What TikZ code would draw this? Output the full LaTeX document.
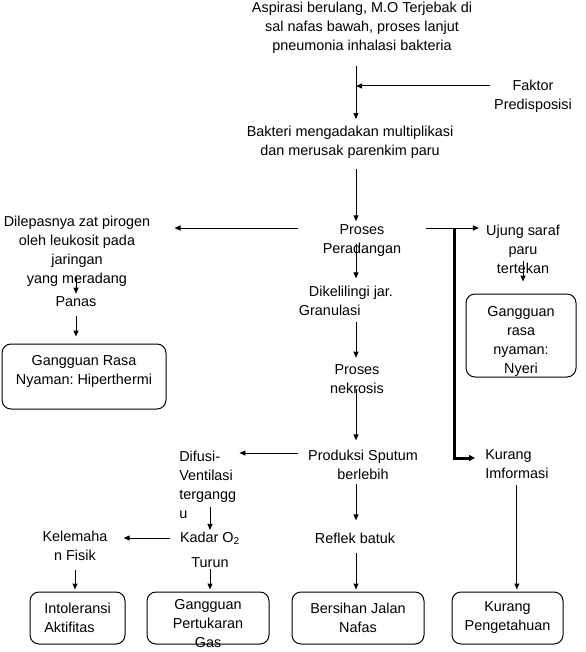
\documentclass[tikz,border=0pt]{standalone}
\usepackage{fontspec}
\setmainfont{Liberation Sans}
\usetikzlibrary{arrows.meta}
\frenchspacing

\tikzset{
  txt/.style={inner sep=0pt, align=center, font=\fontsize{10.8pt}{14.25pt}\selectfont},
  box/.style={draw, line width=0.75pt, rounded corners=6.75pt, inner sep=0pt, txt, minimum height=39pt},
  arr/.style={line width=0.75pt, -{Triangle[length=4.5pt,width=3.75pt]}},
  thickarr/.style={line width=2.25pt, -{Triangle[length=4.5pt,width=4.5pt]}}
}

\begin{document}
\begin{tikzpicture}[x=0.75pt, y=-0.75pt]
  \useasboundingbox[fill=white] (0,0) rectangle (585,652);
  % Define nodes
  \node[txt] (aspirasi) at (362,28) {Aspirasi berulang, M.O Terjebak di\\sal nafas bawah, proses lanjut\\pneumonia inhalasi bakteria};
  \node[txt] (faktor) at (533,96) {Faktor\\Predisposisi};
  \node[txt] (bakteri) at (350,142.5) {Bakteri mengadakan multiplikasi\\dan merusak parenkim paru};
  \node[txt] (proses) at (362,240.5) {Proses\\Peradangan};
  \node[txt] (pirogen) at (77,251) {Dilepasnya zat pirogen\\oleh leukosit pada\\jaringan\\yang meradang};
  \node[txt] (panas) at (76,302) {Panas};
  \node[box, minimum width=123pt, minimum height=48.75pt] (hiperbox) at (84,376.5) {};
  \node[txt] (hiper) at (84,371) {Gangguan Rasa\\Nyaman: Hiperthermi};
  \node[txt, align=left] (granulasi) at (346,300.5) {\hspace*{7.5pt}Dikelilingi jar.\\Granulasi};
  \node[txt] (nekrosis) at (357,379.5) {Proses\\nekrosis};
  \node[txt] (sputum) at (363,464.5) {Produksi Sputum\\berlebih};
  \node[txt, align=left, anchor=west] (difusi) at (179,484.5) {Difusi-\\Ventilasi\\tergangg\\u};
  \node[txt] (kadar) at (210,550) {Kadar O\textsubscript{2}\\[4.5pt]Turun};
  \node[txt] (lemah) at (75,546) {Kelemaha\\n Fisik};
  \node[box, align=left, minimum width=71.25pt] (intol) at (77.5,618) {Intoleransi\\Aktifitas};
  \node[box, minimum width=91.5pt] (gasbox) at (208,618) {};
  \node[txt] (gas) at (208,624) {Gangguan\\Pertukaran\\Gas};
  \node[txt] (reflek) at (355,538) {Reflek batuk};
  \node[box, minimum width=99pt] (bersihan) at (358,618) {Bersihan Jalan\\Nafas};
  \node[txt] (ujung) at (523,249) {Ujung saraf\\paru\\tertekan};
  \node[box, minimum width=82.5pt, minimum height=62.25pt] (nyeribox) at (521,335.5) {};
  \node[txt] (nyeri) at (521,341.5) {Gangguan\\rasa\\nyaman:\\Nyeri};
  \node[txt, align=left, anchor=west] (info) at (485,464.5) {Kurang\\Imformasi};
  \node[box, minimum width=83.25pt] (tahu) at (507.5,618) {Kurang\\Pengetahuan};
  % Helper points
  \coordinate (axis) at (356,0);
  \coordinate (join) at (356,86);
  \coordinate (rowA) at (0,228);
  \coordinate (rowB) at (0,453);
  \coordinate (rowC) at (0,538);
  \coordinate (rowD) at (0,458);
  \coordinate (branch) at (454,228);
  % Connect nodes
  \draw[arr, shorten <=9pt, shorten >=5.25pt] (aspirasi.south -| axis) -- (bakteri.north -| axis);
  \draw[arr, shorten <=3pt] (faktor.west |- join) -- (join);
  \draw[arr, shorten <=7.5pt, shorten >=2.25pt] (bakteri.south -| axis) -- (proses.north -| axis);
  \draw[arr, shorten <=18.75pt, shorten >=18pt] (proses.west |- rowA) -- (pirogen.east |- rowA);
  \draw[arr, shorten <=-6.75pt, shorten >=2.25pt] (panas.north |- pirogen.south) -- (panas.north);
  \draw[arr, shorten <=6.75pt, shorten >=5.25pt] (panas.south) -- (panas.south |- hiperbox.north);
  \draw[arr, shorten <=-9.75pt, shorten >=5.25pt] (proses.south -| axis) -- (granulasi.north -| axis);
  \draw[arr, shorten <=4.5pt, shorten >=5.25pt] (granulasi.south -| axis) -- (nekrosis.north -| axis);
  \draw[arr, shorten <=-3.75pt, shorten >=6.75pt] (nekrosis.south -| axis) -- (sputum.north -| axis);
  \draw[arr, shorten <=7.5pt, shorten >=2.25pt] (sputum.west |- rowB) -- (difusi.east |- rowB);
  \draw[arr, shorten <=-9pt, shorten >=1.5pt] (kadar.north |- difusi.south) -- (kadar.north);
  \draw[arr, shorten <=7.5pt, shorten >=12pt] (kadar.west |- rowC) -- (lemah.east |- rowC);
  \draw[arr, shorten <=6.75pt, shorten >=1.5pt] (lemah.south) -- (lemah.south |- intol.north);
  \draw[arr, shorten <=0.75pt, shorten >=1.5pt] (kadar.south) -- (kadar.south |- gasbox.north);
  \draw[arr, shorten <=3pt, shorten >=9pt] (sputum.south -| axis) -- (reflek.north -| axis);
  \draw[arr, shorten <=6.75pt, shorten >=1.5pt] (reflek.south -| axis) -- (bersihan.north -| axis);
  \draw[arr, shorten <=18pt, shorten >=5.25pt] (proses.east |- rowA) -- (ujung.west |- rowA);
  \draw[thickarr, shorten >=7.5pt] (branch) |- (info.west |- rowD);
  \draw[arr, shorten <=-9.75pt, shorten >=9pt] (ujung.south) -- (ujung.south |- nyeribox.north);
  \draw[arr, shorten <=4.5pt, shorten >=1.5pt] (info.south) -- (info.south |- tahu.north);
\end{tikzpicture}
\end{document}
